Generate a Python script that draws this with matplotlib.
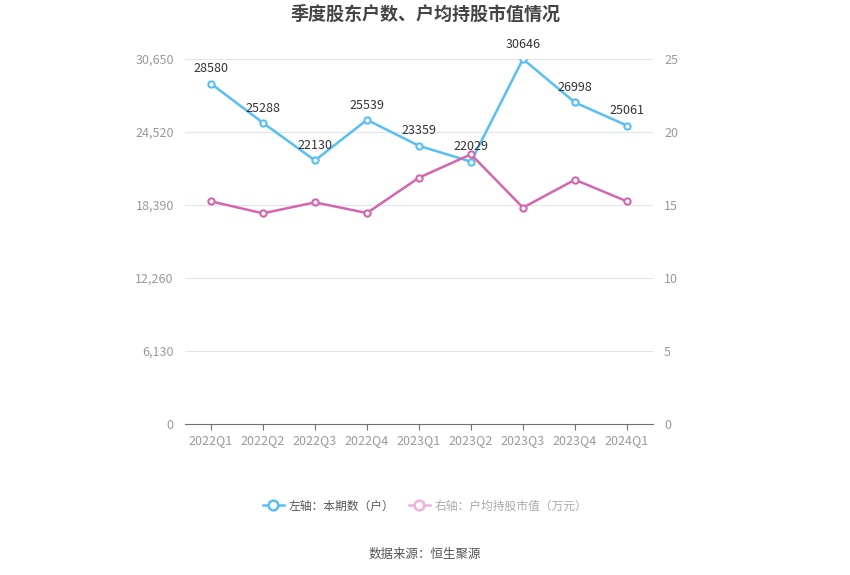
import matplotlib
matplotlib.use("Agg")
import matplotlib.pyplot as plt
from matplotlib.lines import Line2D

plt.rcParams['font.family'] = ['Noto Sans CJK SC', 'DejaVu Sans']

# Data
quarters = ['2022Q1', '2022Q2', '2022Q3', '2022Q4', '2023Q1',
            '2023Q2', '2023Q3', '2023Q4', '2024Q1']
holders = [28580, 25288, 22130, 25539, 23359, 22029, 30646, 26998, 25061]
avg_value = [15.25, 14.43, 15.18, 14.45, 16.87, 18.47, 14.82, 16.73, 15.25]
left_ticks = [0, 6130, 12260, 18390, 24520, 30650]
right_ticks = [0, 5, 10, 15, 20, 25]

blue = '#56c0f6'
pink = '#d565ae'
grey = '#999999'

fig = plt.figure(figsize=(8.5, 5.75), dpi=100)
ax = fig.add_axes([0.2176, 0.2626, 0.5506, 0.6348])
ax2 = ax.twinx()

x = list(range(len(quarters)))

ax.plot(x, holders, color=blue, lw=1.8, marker='o', ms=4.5,
        mfc='white', mec=blue, mew=1.5, zorder=3)
ax2.plot(x, avg_value, color=pink, lw=1.8, marker='o', ms=4.5,
         mfc='white', mec=pink, mew=1.5, zorder=3)

for xi, v in zip(x, holders):
    ax.annotate(str(v), (xi, v), xytext=(0, 6), textcoords='offset points',
                ha='center', va='bottom', fontsize=9, color='#333333', zorder=5)

ax.set_xlim(-0.5, len(quarters) - 0.5)
ax.set_ylim(0, 30650)
ax2.set_ylim(0, 25)
ax.set_yticks(left_ticks)
ax.set_yticklabels([f'{t:,}' for t in left_ticks])
ax2.set_yticks(right_ticks)
ax.set_xticks(x)
ax.set_xticklabels(quarters)

ax.grid(axis='y', color='#e0e6f1', lw=0.8)
ax.set_axisbelow(True)

for a in (ax, ax2):
    for s in a.spines.values():
        s.set_visible(False)
    a.tick_params(axis='y', length=0, labelsize=9, labelcolor=grey, pad=8)
ax.spines['bottom'].set_visible(True)
ax.spines['bottom'].set_color('#6e7079')
ax.tick_params(axis='x', length=4, color='#6e7079', labelsize=9,
               labelcolor=grey, pad=3)

fig.text(0.5, 0.975, '季度股东户数、户均持股市值情况', ha='center', va='center',
         fontsize=13, fontweight='bold', color='#444444')

handles = [
    Line2D([0], [0], color=blue, lw=1.8, marker='o', ms=7, mfc='white',
           mec=blue, mew=1.8),
    Line2D([0], [0], color='#eeb2d8', lw=1.8, marker='o', ms=7, mfc='white',
           mec='#eeb2d8', mew=1.8),
]
leg = fig.legend(handles, ['左轴：本期数（户）', '右轴：户均持股市值（万元）'],
                 loc='center', bbox_to_anchor=(0.5, 0.12), ncol=2, frameon=False,
                 fontsize=8.5, handlelength=1.8, columnspacing=1.2, handletextpad=0.4)
leg.get_texts()[0].set_color('#555555')
leg.get_texts()[1].set_color('#aaaaaa')

fig.text(0.5, 0.036, '数据来源：恒生聚源', ha='center', va='center',
         fontsize=9, color='#555555')

fig.savefig('out.png', dpi=100)
